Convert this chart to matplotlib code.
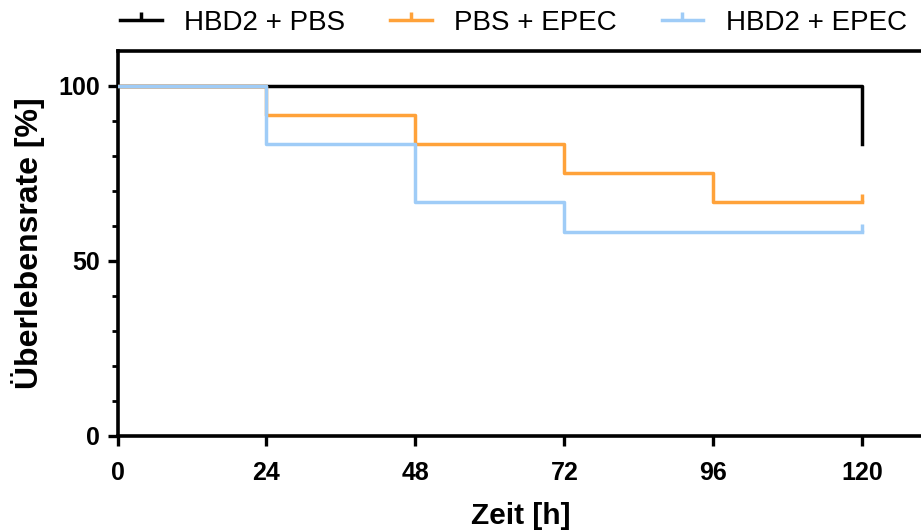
import matplotlib
matplotlib.use("Agg")
import matplotlib.pyplot as plt
from matplotlib.lines import Line2D
from matplotlib.path import Path

# Kaplan-Meier Daten (Zeit in h, Ueberlebensrate in %)
zeit_hbd2_pbs = [0, 24, 48, 72, 96, 120]
rate_hbd2_pbs = [100, 100, 100, 100, 100, 83.3]

zeit_pbs_epec = [0, 24, 48, 72, 96, 120]
rate_pbs_epec = [100, 91.7, 83.3, 75.0, 66.7, 66.7]

zeit_hbd2_epec = [0, 24, 48, 72, 120]
rate_hbd2_epec = [100, 83.3, 66.7, 58.3, 58.3]

# zensierte Zeitpunkte
zensiert_pbs_epec = ([120], [66.7])
zensiert_hbd2_epec = ([120], [58.3])

labels = ["HBD2 + PBS", "PBS + EPEC", "HBD2 + EPEC"]
farben = ["#000000", "#FFA23A", "#9FCCF7"]
x_ticks = [0, 24, 48, 72, 96, 120]
y_ticks = [0, 50, 100]


def main():
    plt.rcParams['font.family'] = ['Liberation Sans', 'DejaVu Sans']

    fig = plt.figure(figsize=(9.21, 5.31), dpi=100)
    ax = fig.add_axes([117.5 / 921, (531 - 435.5) / 531, 807 / 921, 384.5 / 531])

    # Zensur-Strich (kleiner Strich nach oben)
    tick = Path([(0, 0), (0, 1)], [Path.MOVETO, Path.LINETO])

    lw = 2.5
    ax.step(zeit_hbd2_pbs, rate_hbd2_pbs, where='post', color=farben[0], lw=lw, zorder=3)
    ax.step(zeit_pbs_epec, rate_pbs_epec, where='post', color=farben[1], lw=lw, zorder=4)
    ax.plot(*zensiert_pbs_epec, ls='none', marker=tick, ms=11, mew=lw, color=farben[1], zorder=4)
    ax.step(zeit_hbd2_epec, rate_hbd2_epec, where='post', color=farben[2], lw=lw, zorder=5)
    ax.plot(*zensiert_hbd2_epec, ls='none', marker=tick, ms=11, mew=lw, color=farben[2], zorder=5)

    ax.set_xlim(0, 130)
    ax.set_ylim(0, 110)
    ax.set_xticks(x_ticks)
    ax.set_yticks(y_ticks)
    ax.set_yticks(range(10, 100, 10), minor=True)

    for side in ['left', 'bottom', 'top']:
        ax.spines[side].set_linewidth(2.6)
    ax.spines['right'].set_visible(False)

    ax.tick_params(axis='both', which='major', length=7.5, width=2.4, labelsize=18)
    ax.tick_params(axis='y', which='minor', length=4, width=2.0)
    ax.tick_params(axis='x', which='major', pad=11)
    ax.tick_params(axis='y', which='major', pad=5)
    for lab in ax.get_xticklabels() + ax.get_yticklabels():
        lab.set_fontweight('bold')

    ax.set_xlabel("Zeit [h]", fontsize=21.5, fontweight='bold', labelpad=12)
    ax.set_ylabel("Überlebensrate [%]", fontsize=23, fontweight='bold', labelpad=10)

    # Legende oberhalb der Achse
    handles = [Line2D([0], [0], color=f, lw=lw, marker=tick, ms=11, mew=lw) for f in farben]
    ax.legend(handles, labels, ncol=3, frameon=False, fontsize=20,
              loc='center left', bbox_to_anchor=(120 / 921, 1 - 23 / 531),
              bbox_transform=fig.transFigure, borderpad=0, borderaxespad=0,
              handlelength=1.5, handletextpad=0.82, columnspacing=1.6)

    fig.savefig("out.png", dpi=100)


if __name__ == "__main__":
    main()
